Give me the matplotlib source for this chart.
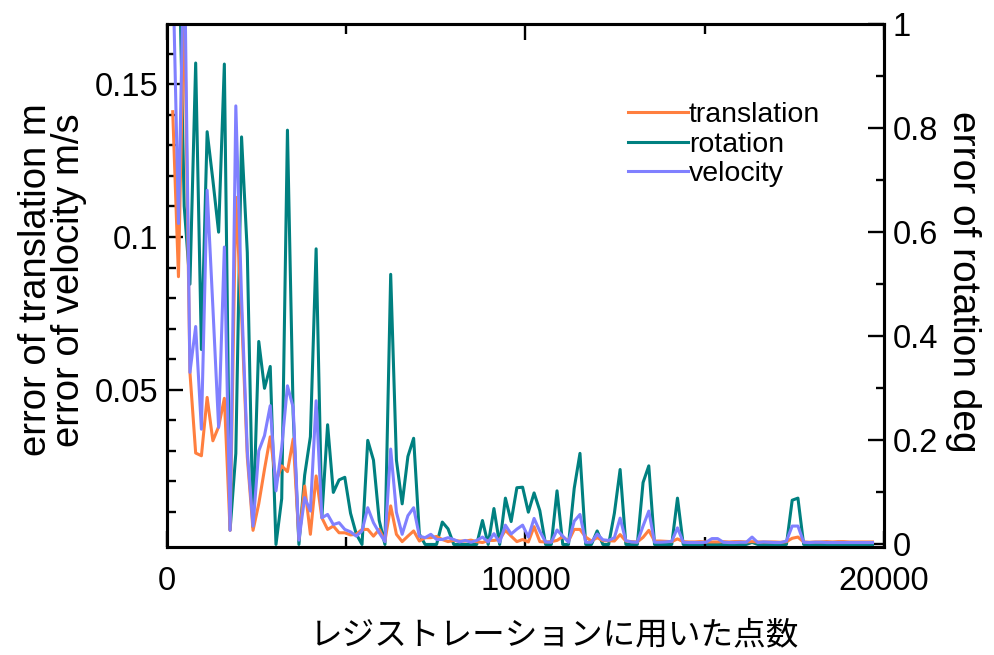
import matplotlib
matplotlib.use("Agg")
import matplotlib.pyplot as plt
from matplotlib.ticker import FixedLocator, FuncFormatter

plt.rcParams['font.family'] = ['Liberation Sans', 'Noto Sans CJK JP', 'DejaVu Sans']

# number of points used for registration
points = [160, 320, 480, 640, 800, 960, 1120, 1280, 1440, 1600,
          1760, 1920, 2080, 2240, 2400, 2560, 2720, 2880, 3040, 3200,
          3360, 3520, 3680, 3840, 4000, 4160, 4320, 4480, 4640, 4800,
          4960, 5120, 5280, 5440, 5600, 5760, 5920, 6080, 6240, 6400,
          6560, 6720, 6880, 7040, 7200, 7360, 7520, 7680, 7840, 8000,
          8160, 8320, 8480, 8640, 8800, 8960, 9120, 9280, 9440, 9600,
          9760, 9920, 10080, 10240, 10400, 10560, 10720, 10880, 11040, 11200,
          11360, 11520, 11680, 11840, 12000, 12160, 12320, 12480, 12640, 12800,
          12960, 13120, 13280, 13440, 13600, 13760, 13920, 14080, 14240, 14400,
          14560, 14720, 14880, 15040, 15200, 15360, 15520, 15680, 15840, 16000,
          16160, 16320, 16480, 16640, 16800, 16960, 17120, 17280, 17440, 17600,
          17760, 17920, 18080, 18240, 18400, 18560, 18720, 18880, 19040, 19200,
          19360, 19520, 19680]

translation = [0.141, 0.087, 0.180, 0.0557, 0.0293, 0.0284, 0.0475, 0.0333, 0.0379, 0.0472,
               0.0040, 0.113, 0.075, 0.028, 0.0040, 0.0127, 0.0240, 0.0346, 0.0199, 0.0251,
               0.0232, 0.0339, 0.0011, 0.0185, 0.0027, 0.0218, 0.0081, 0.0043, 0.0054, 0.0032,
               0.0032, 0.0025, 0.0027, 0.0043, 0.0043, 0.0021, 0.0043, 0.0005, 0.0120, 0.0027,
               0.0003, 0.0021, 0.0038, 0.0005, 0.0016, 0.0016, 0.0020, 0.0010, 0.0003, 0.0007,
               0.0005, 0.0005, 0.0008, 0.0003, 0.0000, 0.0007, 0.0007, 0.0010, 0.0040, 0.0021,
               0.0003, 0.0010, 0.0002, 0.0052, 0.0003, 0.0002, 0.0003, 0.0007, 0.0019, 0.0005,
               0.0043, 0.0043, 0.0018, 0.0005, 0.0016, 0.0006, 0.0006, 0.0005, 0.0026, 0.0005,
               0.0003, 0.0002, 0.0017, 0.0040, 0.0005, 0.0005, 0.0004, 0.0003, 0.0012, 0.0003,
               0.0002, 0.0002, 0.0003, 0.0002, 0.0002, 0.0002, 0.0003, 0.0002, 0.0003, 0.0003,
               0.0002, 0.0003, 0.0002, 0.0002, 0.0002, 0.0002, 0.0001, 0.0003, 0.0014, 0.0018,
               0.0002, 0.0001, 0.0002, 0.0002, 0.0003, 0.0002, 0.0003, 0.0003, 0.0002, 0.0002,
               0.0002, 0.0002, 0.0002]

velocity = [0.190, 0.1044, 0.200, 0.0557, 0.0707, 0.0371, 0.1153, 0.077, 0.0377, 0.0967,
            0.0040, 0.1429, 0.080, 0.030, 0.0054, 0.0300, 0.0350, 0.0448, 0.0169, 0.0311,
            0.0513, 0.0442, 0.0008, 0.0147, 0.0103, 0.0464, 0.0081, 0.0092, 0.0059, 0.0065,
            0.0043, 0.0035, 0.0021, 0.0038, 0.0114, 0.0065, 0.0032, 0.0003, 0.0306, 0.0099,
            0.0027, 0.0088, 0.0114, 0.0021, 0.0016, 0.0027, 0.0010, 0.0010, 0.0016, 0.0010,
            0.0002, 0.0007, 0.0001, 0.0007, 0.0018, 0.0002, 0.0029, 0.0001, 0.0057, 0.0028,
            0.0044, 0.0057, 0.0018, 0.0079, 0.0037, 0.0002, 0.0001, 0.0041, 0.0021, 0.0001,
            0.0070, 0.0092, 0.0001, 0.0001, 0.0028, 0.0009, 0.0007, 0.0016, 0.0080, 0.0006,
            0.0002, 0.0001, 0.0054, 0.0103, 0.0001, 0.0001, 0.0002, 0.0004, 0.0048, 0.0001,
            0.0000, 0.0000, 0.0000, 0.0001, 0.0013, 0.0013, 0.0001, 0.0000, 0.0000, 0.0001,
            0.0001, 0.0018, 0.0000, 0.0002, 0.0001, 0.0000, 0.0000, 0.0005, 0.0054, 0.0054,
            0.0001, 0.0000, 0.0001, 0.0001, 0.0000, 0.0000, 0.0000, 0.0000, 0.0000, 0.0000,
            0.0000, 0.0000, 0.0000]

rotation = [1.05, 1.20, 0.65, 0.50, 0.925, 0.3745, 0.793, 0.70, 0.60, 0.923,
            0.028, 0.175, 0.783, 0.561, 0.033, 0.39, 0.30, 0.342, 0.0, 0.088,
            0.796, 0.25, 0.0, 0.133, 0.207, 0.568, 0.053, 0.23, 0.10, 0.124,
            0.129, 0.06, 0.02, 0.0, 0.20, 0.162, 0.046, 0.0, 0.519, 0.162,
            0.078, 0.169, 0.204, 0.02, 0.0, 0.0, 0.0, 0.043, 0.03, 0.0,
            0.0, 0.0, 0.0, 0.0, 0.046, 0.0, 0.069, 0.0, 0.089, 0.044,
            0.109, 0.11, 0.062, 0.099, 0.065, 0.0, 0.0, 0.103, 0.0, 0.0,
            0.108, 0.175, 0.0, 0.0, 0.026, 0.0, 0.0, 0.06, 0.144, 0.0,
            0.0, 0.0, 0.119, 0.151, 0.0, 0.0, 0.0, 0.0, 0.089, 0.0,
            0.0, 0.0, 0.0, 0.0, 0.0, 0.0, 0.0, 0.0, 0.0, 0.0,
            0.0, 0.004, 0.0, 0.0, 0.0, 0.0, 0.0, 0.0, 0.085, 0.089,
            0.0, 0.0, 0.0, 0.0, 0.0, 0.0, 0.0, 0.0, 0.0, 0.0,
            0.0, 0.0, 0.0]

series_labels = ['translation', 'rotation', 'velocity']
colors = ['#FF7F3F', '#008080', '#8080FF']

x_ticks = [0, 10000, 20000]
left_ticks = [0.05, 0.1, 0.15]
right_ticks = [0, 0.2, 0.4, 0.6, 0.8, 1]

fig = plt.figure(figsize=(9.94, 6.55), dpi=100)
ax = fig.add_axes([0.168, 0.1656, 0.7213, 0.7978])
ax2 = ax.twinx()

lw = 2.2
l1, = ax.plot(points, translation, color=colors[0], lw=lw)
l3, = ax.plot(points, velocity, color=colors[2], lw=lw)
l2, = ax2.plot(points, rotation, color=colors[1], lw=lw)
ax.set_zorder(ax2.get_zorder() + 1)
ax.patch.set_visible(False)

ax.set_xlim(0, 20000)
ax.set_ylim(-0.0013, 0.1697)
ax2.set_ylim(-0.004, 1.0)

ax.xaxis.set_major_locator(FixedLocator(x_ticks))
ax.xaxis.set_minor_locator(FixedLocator([5000, 15000]))
ax.yaxis.set_major_locator(FixedLocator(left_ticks))
ax.yaxis.set_minor_locator(FixedLocator([0.01, 0.02, 0.03, 0.04, 0.06, 0.07, 0.08, 0.09,
                                         0.11, 0.12, 0.13, 0.14, 0.16]))
ax.yaxis.set_major_formatter(FuncFormatter(lambda v, p: ('%g' % v)))
ax2.yaxis.set_major_locator(FixedLocator(right_ticks))
ax2.yaxis.set_minor_locator(FixedLocator([0.1, 0.3, 0.5, 0.7, 0.9]))
ax2.yaxis.set_major_formatter(FuncFormatter(lambda v, p: ('%g' % v)))

fs = 23.5
ax.tick_params(axis='x', which='both', direction='in', top=True, labelsize=fs, width=1.7, pad=14)
ax.tick_params(axis='x', which='major', length=11.5)
ax.tick_params(axis='x', which='minor', length=7)
ax.tick_params(axis='y', which='both', direction='in', right=False, labelsize=fs, width=1.7, pad=6)
ax.tick_params(axis='y', which='major', length=11.5)
ax.tick_params(axis='y', which='minor', length=6.5)
ax2.tick_params(axis='y', which='both', direction='in', labelsize=fs, width=1.7, pad=6)
ax2.tick_params(axis='y', which='major', length=11.5)
ax2.tick_params(axis='y', which='minor', length=6)

for a in (ax, ax2):
    for s in a.spines.values():
        s.set_linewidth(2.2)

ax.set_xlabel('レジストレーションに用いた点数', fontsize=23.5,
              family=['Noto Sans CJK JP', 'DejaVu Sans'])
ax.xaxis.label.set_verticalalignment('center')
ax.xaxis.set_label_coords(0.541, -0.169)

ax.set_ylabel('error of translation m\nerror of velocity m/s', fontsize=27.5,
              linespacing=0.9)
ax.yaxis.label.set_verticalalignment('center')
ax.yaxis.set_label_coords(-0.16, 0.51)

ax2.set_ylabel('error of rotation deg', fontsize=28, rotation=270)
ax2.yaxis.label.set_verticalalignment('center')
ax2.yaxis.set_label_coords(1.11, 0.506)

ax.legend([l1, l2, l3], series_labels, loc='upper left', bbox_to_anchor=(0.643, 0.85),
          frameon=False, fontsize=20.5, handlelength=2.1, handletextpad=0.03,
          labelspacing=0.12, borderpad=0, borderaxespad=0)

fig.savefig('out.png', dpi=100)
